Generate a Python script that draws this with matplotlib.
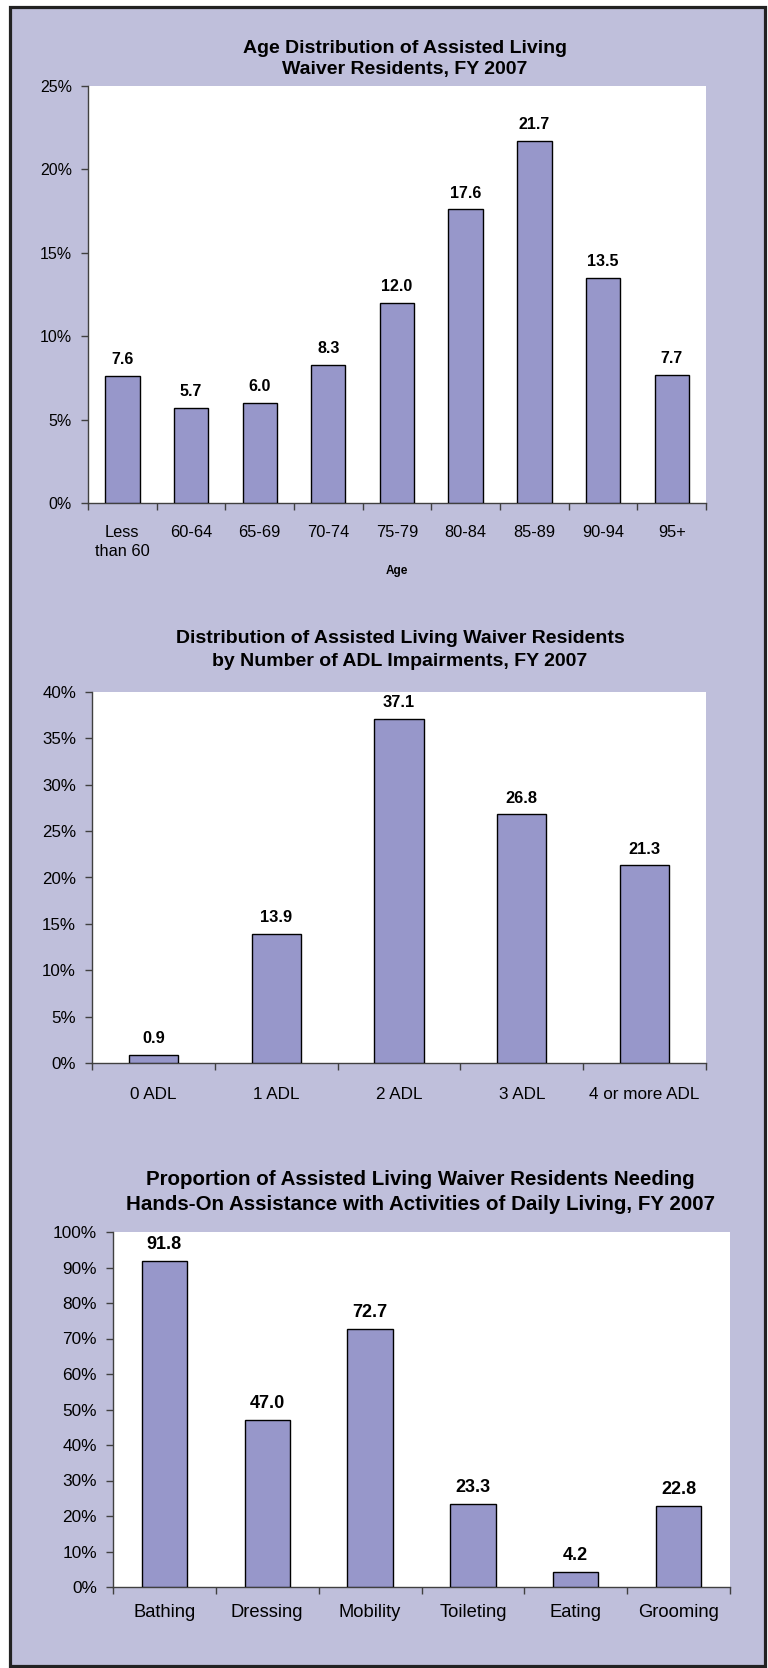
import numpy as np
import matplotlib
matplotlib.use("Agg")
import matplotlib.pyplot as plt
from matplotlib.patches import Rectangle

# ---------------- data ----------------
age_categories = ["Less\nthan 60", "60-64", "65-69", "70-74", "75-79", "80-84", "85-89", "90-94", "95+"]
age_values = [7.6, 5.7, 6.0, 8.3, 12.0, 17.6, 21.7, 13.5, 7.7]

adl_categories = ["0 ADL", "1 ADL", "2 ADL", "3 ADL", "4 or more ADL"]
adl_values = [0.9, 13.9, 37.1, 26.8, 21.3]

activity_categories = ["Bathing", "Dressing", "Mobility", "Toileting", "Eating", "Grooming"]
activity_values = [91.8, 47.0, 72.7, 23.3, 4.2, 22.8]

titles = [
    ("Age Distribution of Assisted Living", "Waiver Residents, FY 2007"),
    ("Distribution of Assisted Living Waiver Residents", "by Number of ADL Impairments, FY 2007"),
    ("Proportion of Assisted Living Waiver Residents Needing",
     "Hands-On Assistance with Activities of Daily Living, FY 2007"),
]

# ---------------- style ----------------
plt.rcParams['font.family'] = ['Liberation Sans', 'DejaVu Sans']
W, H = 768, 1668
DPI = 100
BG = "#BFBFDB"
BAR = "#9797CA"
SPINE = "#404040"

fig = plt.figure(figsize=(W / DPI, H / DPI), dpi=DPI, facecolor="white")


def fx(px):
    return px / W


def fy(py):
    return 1 - py / H


# outer panel
fig.patches.append(Rectangle((fx(9.5), fy(1666)), fx(764.5) - fx(9.5), fy(6.5) - fy(1666),
                             transform=fig.transFigure, facecolor=BG, edgecolor="#222222",
                             linewidth=2.3, zorder=-10))


def make_chart(box, cats, vals, ymax, ystep, width, title, tcx, tbase, tsize,
               xpad, xsize, ysize, vsize, xlabel=None):
    left, right, top, bottom = box
    ax = fig.add_axes([fx(left), fy(bottom), fx(right) - fx(left), fy(top) - fy(bottom)])
    ax.set_zorder(5)
    ax.set_facecolor("white")
    n = len(cats)
    x = np.arange(n)
    bars = ax.bar(x, vals, width=width, color=BAR, edgecolor="black", linewidth=1.0, zorder=3)
    for b, v in zip(bars, vals):
        ax.annotate(f"{v:.1f}", (b.get_x() + b.get_width() / 2, v), xytext=(0, 8.5),
                    textcoords="offset points", ha="center", va="baseline",
                    fontsize=vsize, fontweight="bold", color="black")
    ax.set_xlim(-0.5, n - 0.5)
    ax.set_ylim(0, ymax)
    yt = np.arange(0, ymax + 0.001, ystep)
    ax.set_yticks(yt)
    ax.set_yticklabels([f"{int(t)}%" for t in yt])
    ax.set_xticks(np.arange(n + 1) - 0.5)
    ax.set_xticklabels([])
    ax.set_xticks(x, minor=True)
    ax.set_xticklabels(cats, minor=True, fontsize=xsize, va="top", linespacing=1.4)
    ax.tick_params(axis="x", which="major", direction="out", length=5, width=1, color=SPINE)
    ax.tick_params(axis="x", which="minor", length=0, pad=xpad)
    ax.tick_params(axis="y", direction="out", length=5, width=1, color=SPINE,
                   labelsize=ysize, pad=6.5)
    for s in ("top", "right"):
        ax.spines[s].set_visible(False)
    for s in ("left", "bottom"):
        ax.spines[s].set_color(SPINE)
        ax.spines[s].set_linewidth(1.0)
    # title lines
    fig.text(fx(tcx), fy(tbase[0]), title[0], ha="center", va="baseline",
             fontsize=tsize, fontweight="bold")
    fig.text(fx(tcx), fy(tbase[1]), title[1], ha="center", va="baseline",
             fontsize=tsize, fontweight="bold")
    if xlabel:
        fig.text(fx((left + right) / 2), fy(574), xlabel, ha="center", va="baseline",
                 fontsize=8.5, fontweight="bold")
    return ax


make_chart((88, 706, 86, 503), age_categories, age_values, 25, 5, 0.5,
           titles[0], 405, (53, 74), 14, 15.5, 11.8, 11.5, 11.5, xlabel="Age")
make_chart((92, 706, 692, 1063), adl_categories, adl_values, 40, 5, 0.4,
           titles[1], 400, (643, 666), 14, 17.5, 12.3, 12.2, 11.8)
make_chart((113, 730, 1232, 1587), activity_categories, activity_values, 100, 10, 0.44,
           titles[2], 420, (1185, 1210), 14.8, 12.5, 13.2, 12.4, 13)

fig.savefig("out.png", dpi=DPI, facecolor="white")
